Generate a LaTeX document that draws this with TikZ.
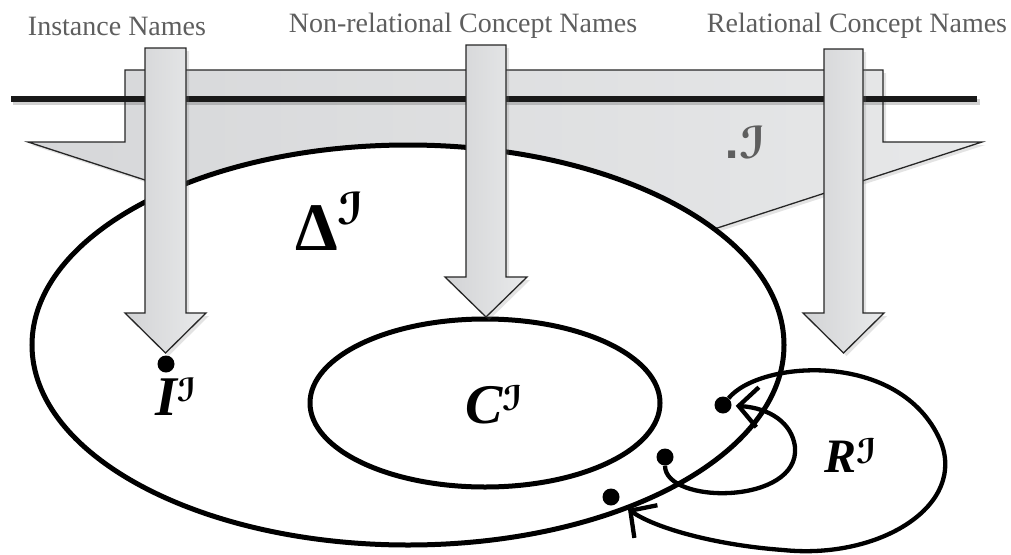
\documentclass[tikz,border=0pt]{standalone}
\usepackage{fontspec}
\setmainfont{Liberation Serif}
\newfontfamily\scrfont{DejaVu Sans}
\usetikzlibrary{arrows.meta,shadows}
\definecolor{labelgray}{HTML}{5E5E5E}
\definecolor{shapeL}{HTML}{D6D7D9}
\definecolor{shapeR}{HTML}{E7E8E9}
\definecolor{arrowL}{HTML}{D2D3D5}
\definecolor{arrowR}{HTML}{E9EAEB}
\newcommand{\supI}[2]{\raisebox{#2}{\scrfont\bfseries\itshape\fontsize{#1}{#1}\selectfont ℐ}}
\begin{document}
\begin{tikzpicture}[x=1pt,y=-1pt,
  softshadow/.style={drop shadow={opacity=0.22, shadow xshift=3pt, shadow yshift=-3pt}},
  blockarrow/.style={draw=black!85, line width=1.3pt, left color=arrowL, right color=arrowR, softshadow},
  graybody/.style={draw=black!85, line width=1.3pt, left color=shapeL, right color=shapeR, softshadow},
  setline/.style={draw=black, line width=5pt, fill=white},
  toplabel/.style={font=\fontsize{28}{32}\selectfont, text=labelgray, inner sep=0pt},
  biglabel/.style={inner sep=0pt, anchor=base west},
  dotnode/.style={circle, fill=black, inner sep=0pt, minimum size=17pt},
  relarrow/.style={draw=black, line width=4.3pt, -{Straight Barb[length=19pt, width=40pt]}}
]
\useasboundingbox (0,0) rectangle (1011,554);

% labels
\node[toplabel] (lInst) at (117,26) {Instance Names};
\node[toplabel] (lNon) at (463,26) {Non-relational Concept Names};
\node[toplabel] (lRel) at (857,26) {Relational Concept Names};

% interpretation body
\path[graybody] (125,70) -- (883,70) -- (883,142) -- (982,142) -- (505,297) -- (28,142) -- (125,142) -- cycle;
\draw[black, opacity=0.18, line width=5.5pt] (13,102) -- (980,102);
\draw[black!90, line width=6pt] (11,99) -- (977,99);
\node[inner sep=0pt, anchor=base west, text=labelgray] (dotI) at (724,158) {{\scrfont\bfseries\fontsize{40}{40}\selectfont .}\supI{44}{0pt}};

% domain and concept
\path[setline] (408,345) ellipse [x radius=376pt, y radius=200pt];
\path[setline] (485,403) ellipse [x radius=175pt, y radius=84pt];

% block arrows
\path[blockarrow] (145,48) -- (186,48) -- (186,313) -- (206,313) -- (165.5,353) -- (125,313) -- (145,313) -- cycle;
\path[blockarrow] (466,45) -- (506,45) -- (506,277) -- (527,277) -- (486,317) -- (445,277) -- (466,277) -- cycle;
\path[blockarrow] (824,49) -- (863,49) -- (863,313) -- (884,313) -- (843.5,353) -- (803,313) -- (824,313) -- cycle;

% texts
\node[biglabel, font=\fontsize{68}{80}\selectfont\bfseries] (delta) at (295,250) {Δ\supI{44}{26pt}};
\node[biglabel, font=\fontsize{56}{64}\selectfont\bfseries\itshape] (Ilab) at (155,415) {I\supI{32}{14pt}};
\node[biglabel, font=\fontsize{56}{64}\selectfont\bfseries\itshape] (Clab) at (465,423) {C\supI{34}{13pt}};
\node[biglabel, font=\fontsize{48}{56}\selectfont\bfseries\itshape] (Rlab) at (824,472) {R\supI{34}{9pt}};

% points
\node[dotnode] (pI) at (166,364) {};
\node[dotnode] (p1) at (723,405) {};
\node[dotnode] (p2) at (665,457) {};
\node[dotnode] (p3) at (611,497) {};

% relation arrows
\draw[relarrow, shorten >=4pt] (p2) .. controls (665,505) and (800,505) .. (795,447)
  .. controls (792,423) and (770,408) .. (p1);
\draw[relarrow, shorten >=12pt] (p1) .. controls (760,360) and (900,350) .. (940,440)
  .. controls (968,505) and (880,560) .. (783,550)
  .. controls (715,545) and (655,528) .. (p3);
\end{tikzpicture}
\end{document}
